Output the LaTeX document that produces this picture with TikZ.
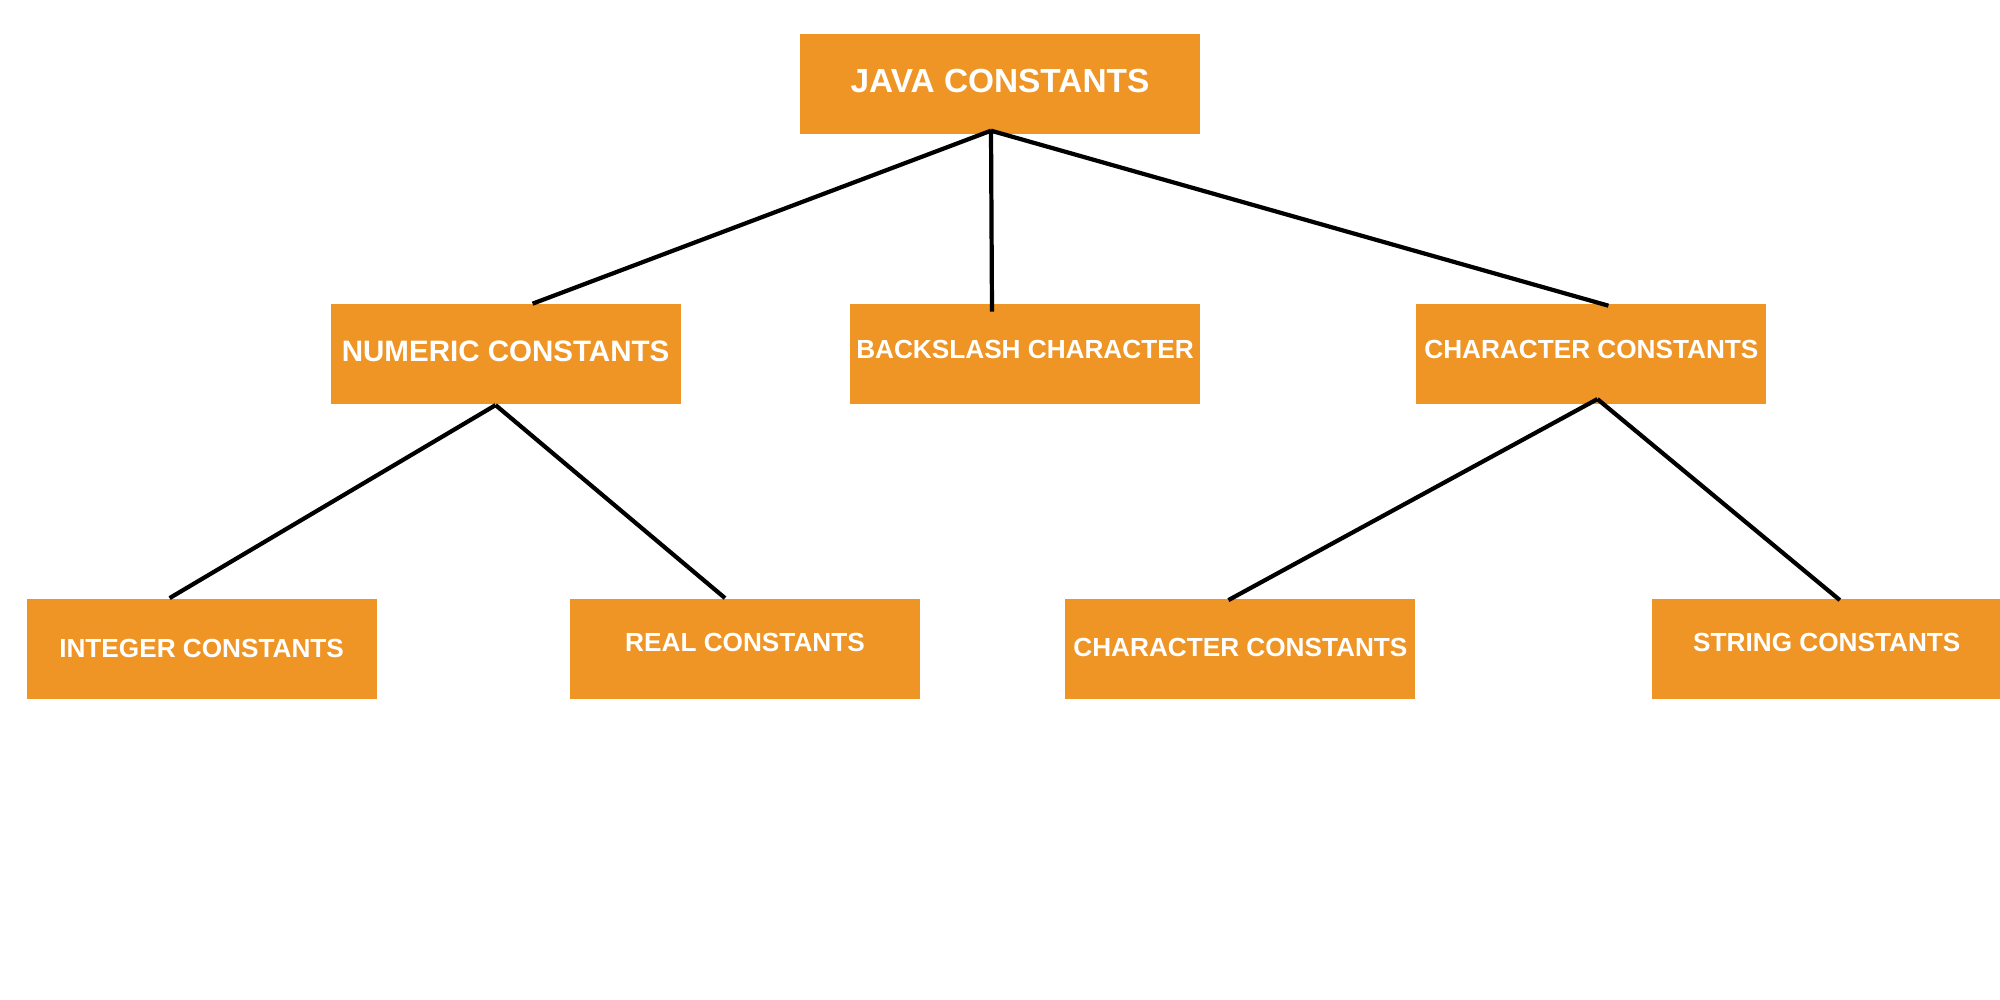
\documentclass[tikz,border=0pt]{standalone}
\usepackage{fontspec}
\setmainfont{Liberation Sans}
\usepackage{tikz}
\usetikzlibrary{positioning}
\definecolor{boxorange}{HTML}{EE9526}

\begin{document}
\begin{tikzpicture}[const/.style={rectangle, fill=boxorange, text=white, minimum width=3.5cm, minimum height=1cm, inner sep=0pt, font=\bfseries\fontsize{7.45}{9}\selectfont}, link/.style={line width=1.2pt, black}, lift/.style={text depth=#1}]

\useasboundingbox (0,0) rectangle (20,-10);

% Root
\node[const, minimum width=4cm, font=\bfseries\fontsize{9.5}{11}\selectfont, lift=0.06cm] (java) at (10,-0.84) {JAVA CONSTANTS};

% Second level
\node[const, below=1.69cm of java, xshift=0.25cm, lift=0.1cm] (backslash) {BACKSLASH CHARACTER};
\node[const, left=1.68cm of backslash, font=\bfseries\fontsize{8.4}{10}\selectfont, lift=0.06cm] (numeric) {NUMERIC CONSTANTS};
\node[const, right=2.15cm of backslash, lift=0.1cm] (character) {CHARACTER CONSTANTS};

% Third level
\node[const, below=1.93cm of numeric, xshift=-3.04cm] (integer) {INTEGER CONSTANTS};
\node[const, right=1.92cm of integer, lift=0.12cm] (real) {REAL CONSTANTS};
\node[const, right=1.44cm of real, lift=0.02cm] (charlit) {CHARACTER CONSTANTS};
\node[const, right=2.35cm of charlit, lift=0.12cm] (string) {STRING CONSTANTS};

% Links from root
\draw[link] ([shift={(-0.09,0.04)}]java.south) -- ([xshift=0.27cm]numeric.north);
\draw[link] ([shift={(-0.09,0.04)}]java.south) -- ([shift={(-0.33,-0.08)}]backslash.north);
\draw[link] ([shift={(-0.09,0.04)}]java.south) -- ([shift={(0.17,-0.02)}]character.north);

% Links from numeric constants
\draw[link] ([xshift=-0.1cm]numeric.south) -- ([xshift=-0.32cm]integer.north);
\draw[link] ([xshift=-0.1cm]numeric.south) -- ([xshift=-0.2cm]real.north);

% Links from character constants
\draw[link] ([shift={(0.06,0.06)}]character.south) -- ([shift={(-0.12,-0.02)}]charlit.north);
\draw[link] ([shift={(0.06,0.06)}]character.south) -- ([shift={(0.13,-0.02)}]string.north);

\end{tikzpicture}
\end{document}
